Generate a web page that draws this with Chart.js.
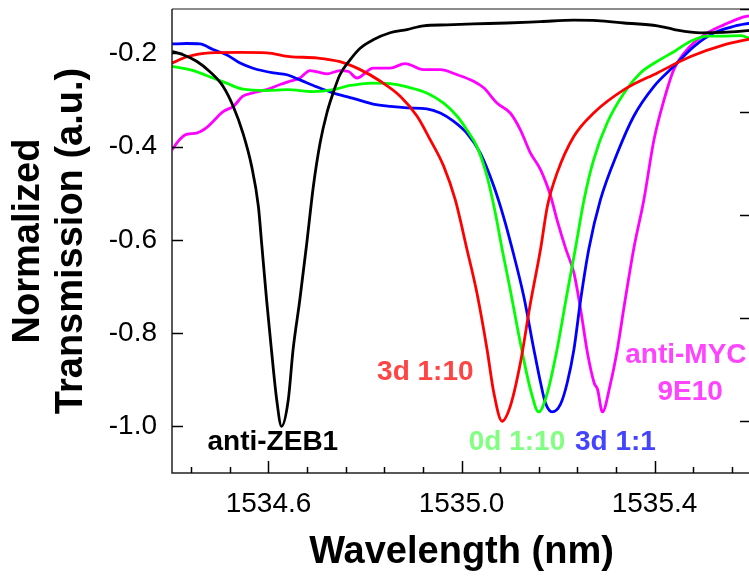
<!DOCTYPE html>
<html><head><meta charset="utf-8">
<script src="https://cdn.jsdelivr.net/npm/chart.js@4/dist/chart.umd.min.js"></script>
<style>
html,body{margin:0;padding:0;overflow:hidden;background:#fff;width:749px;height:579px}
#wrap{width:760px;height:579px;position:relative}
</style></head>
<body><div id="wrap"><canvas id="c" width="760" height="579" style="width:760px;height:579px"></canvas></div>
<script>
// ---- tick labels / ticks ----
const xMajorTicks = [1534.6, 1535.0, 1535.4];
const xMinorTicks = [1534.44,1534.52,1534.68,1534.76,1534.84,1534.92,1535.08,1535.16,1535.24,1535.32,1535.48,1535.56];
const yMajorTicks = [-0.2,-0.4,-0.6,-0.8,-1.0];
const rightTicks = [0.5,1.5,2.5,3.5,4.5];

// ---- series: anti-ZEB1 (black) ----
const zebX = [1534.400,1534.423,1534.451,1534.478,1534.506,1534.527,1534.547,1534.565,1534.579,1534.586,1534.596,1534.606,1534.617,1534.627,1534.641,1534.651,1534.665,1534.679,1534.693,1534.707,1534.721,1534.734,1534.748,1534.769,1534.790,1534.817,1534.852,1534.887,1534.921,1534.970,1535.025,1535.094,1535.164,1535.233,1535.281,1535.337,1535.406,1535.441,1535.496,1535.544,1535.600];
const zebY = [-0.196,-0.203,-0.217,-0.239,-0.271,-0.314,-0.371,-0.442,-0.528,-0.610,-0.728,-0.835,-0.943,-1.000,-0.943,-0.835,-0.728,-0.610,-0.485,-0.392,-0.328,-0.285,-0.246,-0.214,-0.189,-0.171,-0.156,-0.149,-0.141,-0.139,-0.137,-0.135,-0.132,-0.129,-0.130,-0.135,-0.141,-0.149,-0.156,-0.155,-0.151];

// ---- series: 3d 1:10 (red) ----
const red310X = [1534.400,1534.430,1534.478,1534.541,1534.596,1534.644,1534.700,1534.748,1534.790,1534.832,1534.873,1534.908,1534.935,1534.963,1534.987,1535.011,1535.032,1535.053,1535.067,1535.084,1535.101,1535.122,1535.143,1535.164,1535.178,1535.198,1535.233,1535.274,1535.337,1535.406,1535.475,1535.544,1535.600];
const red310Y = [-0.221,-0.208,-0.199,-0.198,-0.199,-0.207,-0.210,-0.218,-0.235,-0.260,-0.292,-0.335,-0.385,-0.442,-0.514,-0.619,-0.714,-0.835,-0.928,-0.989,-0.957,-0.864,-0.735,-0.619,-0.528,-0.457,-0.378,-0.328,-0.278,-0.242,-0.207,-0.182,-0.169];

// ---- series: 0d 1:10 (green) ----
const grn010X = [1534.400,1534.444,1534.485,1534.513,1534.547,1534.596,1534.638,1534.693,1534.734,1534.769,1534.783,1534.817,1534.852,1534.887,1534.928,1534.963,1534.991,1535.011,1535.032,1535.053,1535.070,1535.084,1535.101,1535.122,1535.143,1535.160,1535.178,1535.198,1535.219,1535.236,1535.254,1535.274,1535.302,1535.337,1535.371,1535.406,1535.441,1535.475,1535.510,1535.544,1535.579,1535.600];
const grn010Y = [-0.228,-0.237,-0.253,-0.264,-0.277,-0.280,-0.278,-0.282,-0.278,-0.269,-0.267,-0.264,-0.265,-0.272,-0.285,-0.307,-0.335,-0.364,-0.400,-0.464,-0.542,-0.619,-0.707,-0.821,-0.921,-0.969,-0.928,-0.835,-0.714,-0.619,-0.514,-0.428,-0.349,-0.285,-0.242,-0.217,-0.196,-0.174,-0.163,-0.163,-0.162,-0.170];

// ---- series: 3d 1:1 (blue) ----
const blu31X = [1534.400,1534.430,1534.458,1534.485,1534.513,1534.541,1534.568,1534.610,1534.638,1534.665,1534.700,1534.734,1534.769,1534.783,1534.817,1534.852,1534.887,1534.928,1534.956,1534.984,1535.011,1535.039,1535.067,1535.087,1535.105,1535.129,1535.150,1535.164,1535.174,1535.188,1535.205,1535.219,1535.233,1535.247,1535.264,1535.288,1535.323,1535.357,1535.399,1535.440,1535.482,1535.524,1535.565,1535.600];
const blu31Y = [-0.180,-0.179,-0.180,-0.192,-0.203,-0.221,-0.232,-0.242,-0.246,-0.257,-0.272,-0.285,-0.295,-0.299,-0.309,-0.314,-0.317,-0.319,-0.328,-0.346,-0.371,-0.414,-0.485,-0.550,-0.619,-0.721,-0.835,-0.907,-0.950,-0.969,-0.953,-0.907,-0.835,-0.728,-0.619,-0.514,-0.414,-0.335,-0.271,-0.228,-0.185,-0.156,-0.142,-0.135];

// ---- series: anti-MYC 9E10 (magenta) ----
const mycX = [1534.400,1534.416,1534.430,1534.451,1534.471,1534.485,1534.506,1534.527,1534.547,1534.568,1534.596,1534.624,1534.644,1534.665,1534.686,1534.721,1534.748,1534.766,1534.783,1534.817,1534.852,1534.883,1534.921,1534.956,1534.991,1535.025,1535.046,1535.074,1535.101,1535.122,1535.143,1535.164,1535.185,1535.198,1535.216,1535.233,1535.247,1535.261,1535.275,1535.282,1535.292,1535.309,1535.323,1535.337,1535.357,1535.378,1535.399,1535.420,1535.440,1535.471,1535.510,1535.544,1535.579,1535.600];
const mycY = [-0.407,-0.385,-0.374,-0.371,-0.360,-0.346,-0.325,-0.314,-0.292,-0.285,-0.278,-0.267,-0.260,-0.253,-0.237,-0.244,-0.237,-0.239,-0.253,-0.232,-0.232,-0.222,-0.235,-0.235,-0.246,-0.260,-0.274,-0.307,-0.328,-0.364,-0.414,-0.450,-0.507,-0.557,-0.619,-0.671,-0.750,-0.842,-0.907,-0.921,-0.969,-0.907,-0.835,-0.743,-0.619,-0.514,-0.385,-0.299,-0.235,-0.188,-0.156,-0.139,-0.124,-0.119];

// ---- labels ----
const seriesNames = ['anti-ZEB1','3d 1:10','0d 1:10','3d 1:1','anti-MYC 9E10'];

const pts = (xs, ys) => xs.map((v, i) => ({x: v, y: ys[i]}));
const FONT = '"Liberation Sans", Arial, sans-serif';

const mk = (label, xs, ys, color) => ({
  label, data: pts(xs, ys), borderColor: color, backgroundColor: color,
  borderWidth: 2.8, pointRadius: 0, cubicInterpolationMode: 'monotone', fill: false
});

const annotations = [
  {text: 'anti-ZEB1', x: 1534.609, y: -1.034, color: '#000000'},
  {text: '3d 1:10', x: 1534.925, y: -0.884, color: '#ff4444'},
  {text: '0d 1:10', x: 1535.115, y: -1.034, color: '#80ff80'},
  {text: '3d 1:1', x: 1535.319, y: -1.034, color: '#4444ff'},
  {text: 'anti-MYC', x: 1535.465, y: -0.848, color: '#ff44ff'},
  {text: '9E10', x: 1535.474, y: -0.927, color: '#ff44ff'}
];

const framePlugin = {
  id: 'frame',
  afterDatasetsDraw(chart) {
    const {ctx, chartArea: a, scales: {x, y, y2}} = chart;
    ctx.save();
    ctx.font = 'bold 28px ' + FONT;
    ctx.textAlign = 'center';
    ctx.textBaseline = 'middle';
    annotations.forEach(t => {
      ctx.fillStyle = t.color;
      ctx.fillText(t.text, x.getPixelForValue(t.x), y.getPixelForValue(t.y));
    });
    ctx.lineWidth = 1.5;
    ctx.strokeStyle = '#666';
    ctx.beginPath(); ctx.moveTo(a.left, a.top); ctx.lineTo(a.right, a.top); ctx.stroke();
    ctx.strokeStyle = '#222';
    ctx.beginPath(); ctx.moveTo(a.left, a.top); ctx.lineTo(a.left, a.bottom); ctx.lineTo(a.right, a.bottom); ctx.lineTo(a.right, a.top); ctx.stroke();
    ctx.strokeStyle = '#000';
    const seg = (x1, y1, x2, y2) => { ctx.beginPath(); ctx.moveTo(x1, y1); ctx.lineTo(x2, y2); ctx.stroke(); };
    xMajorTicks.forEach(v => { const p = Math.round(x.getPixelForValue(v)) + 0.5; seg(p, a.bottom, p, a.bottom - 12); });
    xMinorTicks.forEach(v => { const p = Math.round(x.getPixelForValue(v)) + 0.5; seg(p, a.bottom, p, a.bottom - 6); });
    yMajorTicks.forEach(v => { const p = Math.round(y.getPixelForValue(v)) + 0.5; seg(a.left, p, a.left + 11, p); });
    rightTicks.forEach(v => { const p = Math.round(y2.getPixelForValue(v)) + 0.5; seg(a.right, p, a.right - 11, p); });
    ctx.restore();
  }
};

const noPad = s => { s.paddingTop = 0; s.paddingBottom = 0; s.paddingLeft = 0; s.paddingRight = 0; };

new Chart(document.getElementById('c'), {
  type: 'line',
  data: {
    datasets: [
      mk(seriesNames[0], zebX, zebY, '#000000'),
      mk(seriesNames[1], red310X, red310Y, '#ff0000'),
      mk(seriesNames[2], grn010X, grn010Y, '#00ff00'),
      mk(seriesNames[3], blu31X, blu31Y, '#0000ff'),
      mk(seriesNames[4], mycX, mycY, '#ff00ff')
    ]
  },
  options: {
    responsive: false,
    animation: false,
    devicePixelRatio: 1,
    layout: {padding: {left: 0, top: 9, right: 9, bottom: 0}},
    plugins: {legend: {display: false}, tooltip: {enabled: false}},
    scales: {
      x: {
        type: 'linear', position: 'bottom', min: 1534.4, max: 1535.6,
        afterBuildTicks: s => { s.ticks = xMajorTicks.map(v => ({value: v})); },
        afterFit: s => { s.height = 106; noPad(s); },
        grid: {display: false, drawTicks: false},
        border: {display: false},
        ticks: {padding: 14, color: '#000', font: {family: FONT, size: 28}, callback: v => Number(v).toFixed(1), maxRotation: 0, autoSkip: false},
        title: {display: true, text: 'Wavelength (nm)', color: '#000', font: {family: FONT, size: 38, weight: 'bold', lineHeight: 1.13}, padding: {top: 0, bottom: 5}}
      },
      y: {
        type: 'linear', position: 'left', min: -1.1, max: -0.105,
        afterBuildTicks: s => { s.ticks = yMajorTicks.map(v => ({value: v})); },
        afterFit: s => { s.width = 172; noPad(s); },
        grid: {display: false, drawTicks: false},
        border: {display: false},
        ticks: {padding: 15, color: '#000', font: {family: FONT, size: 28}, callback: v => Number(v).toFixed(1), autoSkip: false},
        title: {display: true, text: ['Normalized', 'Transmission (a.u.)'], color: '#000', font: {family: FONT, size: 38, weight: 'bold', lineHeight: 1.13}, padding: {top: 7, bottom: 0}}
      },
      y2: {
        type: 'linear', position: 'right', min: 0, max: 4.5,
        afterBuildTicks: s => { s.ticks = rightTicks.map(v => ({value: v})); },
        afterFit: s => { s.width = 0; noPad(s); },
        grid: {display: false, drawTicks: false},
        border: {display: false},
        ticks: {display: false}
      }
    }
  },
  plugins: [framePlugin]
});
</script>
</body></html>
